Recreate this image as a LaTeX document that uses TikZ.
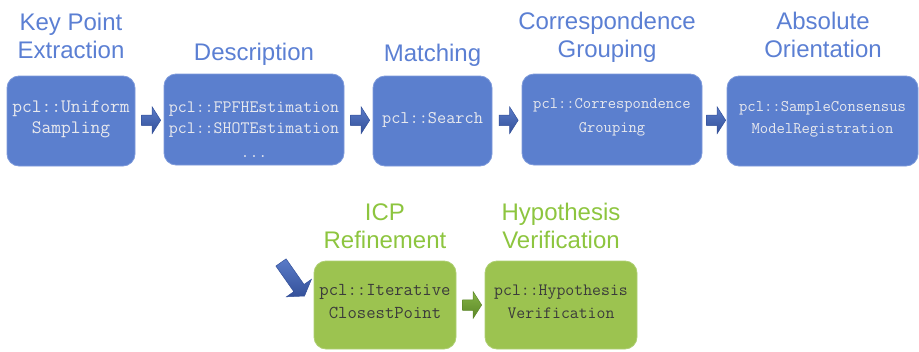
\documentclass[tikz,border=0pt]{standalone}
\usepackage{fontspec}
\setmainfont{Liberation Sans}
\usetikzlibrary{shapes.arrows,calc}

\definecolor{stageblue}{HTML}{5B7FCE}
\definecolor{stageblueedge}{HTML}{7E9ADB}
\definecolor{titleblue}{HTML}{5B7FD3}
\definecolor{codelight}{HTML}{E8E9EE}
\definecolor{stagegreen}{HTML}{9CC350}
\definecolor{stagegreenedge}{HTML}{AECF72}
\definecolor{titlegreen}{HTML}{8DC53F}
\definecolor{codedark}{HTML}{3B3B3B}
\definecolor{arrowbluelight}{HTML}{5A7BC8}
\definecolor{arrowbluedark}{HTML}{34519A}
\definecolor{arrowgreenlight}{HTML}{84B445}
\definecolor{arrowgreendark}{HTML}{5C8628}

\begin{document}
\begin{tikzpicture}[x=1pt,y=-1pt,
  stage/.style={rounded corners=12pt, line width=0.8pt, inner sep=0pt},
  bluestage/.style={stage, fill=stageblue, draw=stageblueedge},
  greenstage/.style={stage, fill=stagegreen, draw=stagegreenedge},
  title/.style={anchor=base, inner sep=0pt, font=\fontsize{24}{28}\selectfont},
  bluetitle/.style={title, text=titleblue},
  greentitle/.style={title, text=titlegreen},
  code/.style={anchor=base, inner sep=0pt, font=\ttfamily\fontsize{#1}{22}\selectfont},
  bluecode/.style={code=#1, text=codelight},
  greencode/.style={code=#1, text=codedark},
  flow/.style={single arrow, single arrow head extend=8pt, single arrow tip angle=115,
    minimum height=19pt, inner xsep=0pt, inner ysep=5pt, line width=0.5pt},
  blueflow/.style={flow, top color=arrowbluelight, bottom color=arrowbluedark, draw=arrowbluedark},
  greenflow/.style={flow, top color=arrowgreenlight, bottom color=arrowgreendark, draw=arrowgreendark},
]
\useasboundingbox (0,0) rectangle (919,351);

% pipeline stages (top row)
\node[bluestage, minimum width=128pt, minimum height=90pt] (kp)   at (71,121)    {};
\node[bluestage, minimum width=180pt, minimum height=91pt] (desc) at (254,119.5) {};
\node[bluestage, minimum width=119pt, minimum height=90pt] (mat)  at (432.5,121) {};
\node[bluestage, minimum width=180pt, minimum height=91pt] (cg)   at (612,119.5) {};
\node[bluestage, minimum width=191pt, minimum height=90pt] (ao)   at (822.5,121) {};

% refinement stages (bottom row)
\node[greenstage, minimum width=142pt, minimum height=88pt] (icp) at (385,305) {};
\node[greenstage, minimum width=152pt, minimum height=88pt] (hv)  at (561,305) {};

% stage titles
\node[bluetitle] (kpA)   at (71,30)    {Key Point};
\node[bluetitle] (kpB)   at (71,58)    {Extraction};
\node[bluetitle] (descA) at (254,60)   {Description};
\node[bluetitle] (matA)  at (432.5,61) {Matching};
\node[bluetitle] (cgA)   at (607,29)   {Correspondence};
\node[bluetitle] (cgB)   at (607,57)   {Grouping};
\node[bluetitle] (aoA)   at (823,29)   {Absolute};
\node[bluetitle] (aoB)   at (823,57)   {Orientation};
\node[greentitle] (icpA) at (385,220)  {ICP};
\node[greentitle] (icpB) at (385,248)  {Refinement};
\node[greentitle] (hvA)  at (561,220)  {Hypothesis};
\node[greentitle] (hvB)  at (561,248)  {Verification};

% class names
\node[bluecode=19] (kpC1)     at (71,112)    {pcl::Uniform};
\node[bluecode=19] (kpC2)     at (71,133)    {Sampling};
\node[bluecode=17.4] (descC1) at (254,112)   {pcl::FPFHEstimation};
\node[bluecode=17.4] (descC2) at (254,133)   {pcl::SHOTEstimation};
\node[bluecode=17.4] (descC3) at (254,157)   {...};
\node[bluecode=17.8] (matC1)  at (432.5,123) {pcl::Search};
\node[bluecode=16.1] (cgC1)   at (612,108)   {pcl::Correspondence};
\node[bluecode=16.1] (cgC2)   at (612,132)   {Grouping};
\node[bluecode=16.2] (aoC1)   at (822.5,111) {pcl::SampleConsensus};
\node[bluecode=16.2] (aoC2)   at (822.5,133) {ModelRegistration};
\node[greencode=18.2] (icpC1) at (385,295)   {pcl::Iterative};
\node[greencode=18.2] (icpC2) at (385,318)   {ClosestPoint};
\node[greencode=17.3] (hvC1)  at (561,295)   {pcl::Hypothesis};
\node[greencode=17.3] (hvC2)  at (561,318)   {Verification};

% flow arrows between stages
\node[blueflow] (f1) at ($(kp.east)!0.5!(desc.west)$) {};
\node[blueflow] (f2) at ($(desc.east)!0.5!(mat.west)$) {};
\node[blueflow] (f3) at ($(mat.east)!0.5!(cg.west)$) {};
\node[blueflow] (f4) at ($(cg.east)!0.5!(ao.west)$) {};
\node[greenflow] (f5) at ($(icp.east)!0.5!(hv.west)$) {};

% entry into the refinement stage
\coordinate (entry) at ($(icp.north west)+(-22,17)$);
\node[blueflow, minimum height=41pt, inner ysep=6pt, single arrow head extend=9pt,
  rotate=-55] (f0) at (entry) {};
\end{tikzpicture}
\end{document}
